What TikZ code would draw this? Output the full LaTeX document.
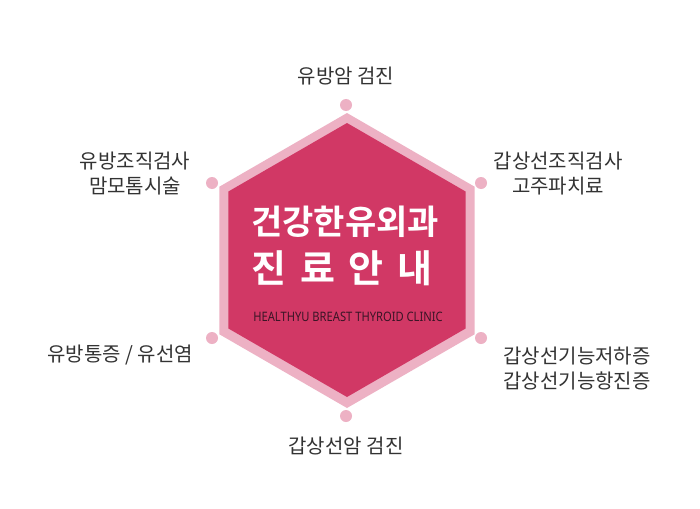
\documentclass[tikz,border=0pt]{standalone}
\usepackage{fontspec}
\newfontfamily\kr{Noto Sans CJK KR}
\newfontfamily\krb{Noto Sans CJK KR}[BoldFont={* Bold}]
\newfontfamily\narrowfont{Noto Sans}[FakeStretch=0.86]
\definecolor{ringpink}{HTML}{EDB1C4}
\definecolor{hexred}{HTML}{D13865}
\definecolor{labelgray}{HTML}{333333}
\definecolor{engdark}{HTML}{3A1526}
\begin{document}
\begin{tikzpicture}[x=1pt,y=-1pt,
  lbl/.style={font=\kr\fontsize{20}{25}\selectfont, text=labelgray, align=center, inner sep=0pt},
  dot/.style={circle, fill=ringpink, minimum size=12pt, inner sep=0pt}]
\useasboundingbox (0,0) rectangle (700,508);
\fill[white] (0,0) rectangle (700,508);
% outer hexagon
\coordinate (c) at (347,260.5);
\fill[ringpink] (347,113) -- (474.7,186.75) -- (474.7,334.25) -- (347,408) -- (219.3,334.25) -- (219.3,186.75) -- cycle;
\fill[hexred] (347,123) -- (465.6,191.5) -- (465.6,328.5) -- (347,397) -- (228.4,328.5) -- (228.4,191.5) -- cycle;
% dots
\node[dot] (d1) at (346,105) {};
\node[dot] (d2) at (481,183) {};
\node[dot] (d3) at (481,338) {};
\node[dot] (d4) at (346,416) {};
\node[dot] (d5) at (212,338) {};
\node[dot] (d6) at (212,183) {};
% labels
\node[lbl] (t1) at (346,76) {유방암 검진};
\node[lbl] (t2) at (558,174) {갑상선조직검사\\고주파치료};
\node[lbl] (t3) at (577,369) {갑상선기능저하증\\갑상선기능항진증};
\node[lbl] (t4) at (346,446) {갑상선암 검진};
\node[lbl] (t5) at (120,355) {유방통증 / 유선염};
\node[lbl] (t6) at (135,174) {유방조직검사\\맘모톰시술};
% title
\node[font=\krb\bfseries\fontsize{34}{40}\selectfont, text=white, inner sep=0pt] (h1) at (345,222) {건강한유외과};
\node[font=\krb\bfseries\fontsize{38}{44}\selectfont, text=white, inner sep=0pt] (h2) at (342,268) {진\hspace{14pt}료\hspace{14pt}안\hspace{14pt}내};
\node[font=\narrowfont\fontsize{13}{15}\selectfont, text=engdark, inner sep=0pt] (h3) at (348,317) {HEALTHYU BREAST THYROID CLINIC};
\end{tikzpicture}
\end{document}
